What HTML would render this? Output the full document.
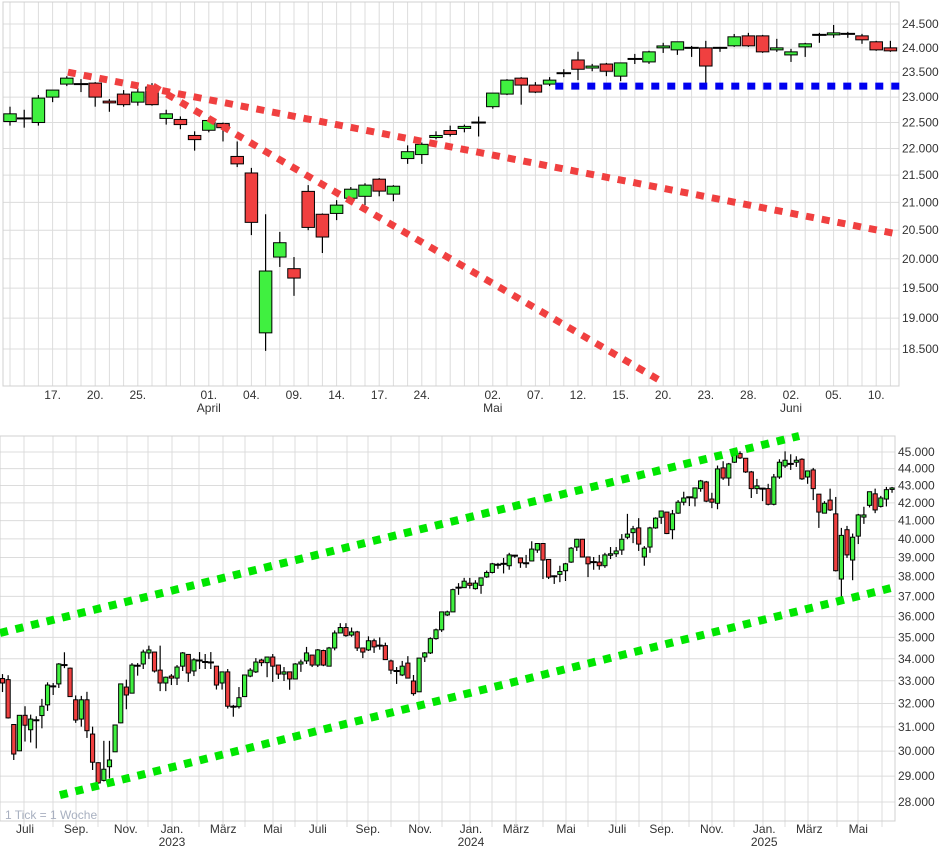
<!DOCTYPE html>
<html><head><meta charset="utf-8">
<style>
html,body{margin:0;padding:0;background:#fff;}
svg{display:block;font-family:"Liberation Sans",sans-serif;}
text{font-size:12px;fill:#333;}
</style></head>
<body>
<svg id="chart" width="941" height="856" viewBox="0 0 941 856" xmlns="http://www.w3.org/2000/svg">
<g id="topchart"></g>
<g id="botchart"></g>
</svg>
<script>
// ---------- TOP CHART DATA (daily) ----------
const tOpen=[22520,22580,22500,23000,23260,23260,23280,22920,23060,22900,23200,22580,22560,22250,22350,22480,21850,21540,18760,20030,19830,21200,20785,20800,21075,21110,21425,21150,21810,21885,22210,22345,22385,22500,22810,23060,23380,23240,23260,23480,23750,23585,23667,23420,23771,23710,24000,23958,24000,24000,24000,24042,24250,24250,23958,23854,24020,24271,24271,24292,24250,24126,24000];
const tHigh=[22810,22750,23040,23140,23420,23360,23300,22960,23140,23180,23280,22750,22620,22330,22600,22500,22135,21635,20785,20470,20030,21315,20800,21040,21280,21350,21445,21315,22060,22115,22330,22440,22460,22616,23080,23360,23400,23300,23400,23560,23920,23670,23690,23690,23875,23940,24105,24126,24040,24146,24020,24290,24313,24270,24188,23980,24105,24313,24480,24334,24292,24146,24146];
const tLow=[22440,22400,22440,22900,23220,23100,22810,22710,22810,22830,22830,22460,22370,21960,22310,22135,21650,20414,18470,19860,19370,20500,20100,20680,21035,20950,21110,21020,21710,21710,22175,22230,22310,22230,22770,23040,22850,23080,23220,23400,23340,23520,23420,23320,23667,23670,23895,23855,23813,23280,23917,24020,24020,23896,23917,23710,23813,24105,24209,24209,24084,23938,23917];
const tClose=[22670,22580,22980,23140,23380,23260,23000,22885,22850,23100,22850,22670,22460,22170,22540,22400,21710,20640,19790,20280,19670,20550,20380,20950,21240,21315,21205,21295,21940,22080,22250,22270,22425,22500,23080,23340,23240,23100,23340,23480,23560,23625,23520,23690,23771,23917,24040,24126,24000,23626,24000,24230,24042,23917,24000,23917,24084,24271,24313,24292,24167,23958,23938];
const tTicks=[24500,24000,23500,23000,22500,22000,21500,21000,20500,20000,19500,19000,18500];
const tXLabelIdx=[3,6,9,14,17,20,23,26,29,34,37,40,43,46,49,52,55,58,61];
const tXLabels=["17.","20.","25.","01.","04.","09.","14.","17.","24.","02.","07.","12.","15.","20.","23.","28.","02.","05.","10."];
const tMonthIdx=[14,34,55];
const tMonths=["April","Mai","Juni"];
const tTrendA=[[4.08,23500],[62.2,20448]];
const tTrendB=[[10.07,23220],[45.8,18000]];
const tSupport=[[38.4,23220],[62.7,23220]];

// ---------- BOTTOM CHART DATA (weekly) ----------
const bOpen=[33100,33050,31100,30010,31490,30880,31280,31480,31940,32750,32860,33710,33570,32160,31330,32160,30700,29530,28830,29370,29970,31170,32720,32450,33680,33760,34270,34310,33480,32900,33210,33120,33660,34200,33440,33920,33850,33830,33660,32900,33400,31860,31860,32300,33210,33400,33940,33820,34080,33710,33300,33400,33080,33760,33900,34170,33710,34380,33660,34500,35210,35470,35110,35260,34500,34410,34840,34610,34610,33900,33440,33260,33800,32990,32510,34080,34270,34940,35360,36080,36230,37440,37440,37670,37390,37560,37990,38220,38620,38670,38570,39100,38980,38700,38820,39400,39750,38900,38020,38120,38310,38760,39560,39980,39030,38760,38760,38570,39140,39200,39400,40090,40340,40600,39030,39560,40600,41190,41480,40500,41420,42040,42320,42280,42820,43210,42220,41980,44040,43440,44380,44900,44620,43800,42820,42820,42820,41920,43500,44160,44280,44380,44560,43500,43920,42500,41420,42160,41380,37880,40500,38870,40150,41200,41860,42520,41800,42220,42820];
const bHigh=[33300,33250,31120,31500,31880,31520,31450,32200,32930,32900,33800,34300,33600,32350,32330,32510,31010,29550,30420,30420,31080,32860,33050,33800,33800,34420,34610,34320,34610,33190,33300,33710,34310,34200,34030,34310,34220,34310,33660,33400,33530,31940,32720,33260,33570,34030,34000,34080,34220,33710,33620,33400,33800,33960,34550,34170,34450,34420,34550,35330,35680,35680,35470,35310,34500,35050,34940,35000,34750,33960,33620,33900,34120,33260,34030,34310,35000,35420,36230,36290,37390,37670,37940,37940,37820,37940,38320,38720,38720,38980,39250,39140,38980,39140,39870,39750,39750,38900,38070,38570,38720,39560,40000,40000,39030,39030,39140,39250,39560,39560,40260,41380,40710,41140,39610,40660,41190,41540,41480,41600,42160,42640,42340,42860,43330,43270,42580,44180,44440,44340,44980,45040,44620,43860,43390,42860,43100,43680,44560,45040,44860,44740,44620,43860,44040,42500,42100,42820,42340,40600,40710,40290,41380,41780,42640,42820,42400,42920,42920];
const bLow=[32500,31350,29640,30000,30390,30350,30110,30940,31680,32370,32680,33570,32300,31170,31010,30540,29240,28700,28790,28910,29970,31150,31750,32450,33230,33530,33990,33370,32540,32540,32810,32810,33440,32950,33210,33530,33530,33530,32610,32610,31780,31430,31780,32300,33160,33350,33660,33160,32950,33080,32990,32600,33080,33400,33760,33620,33620,33660,33660,34390,35200,35030,35030,34360,34030,34360,34270,34420,33960,33300,32860,33210,33120,32340,32510,33850,34220,34890,35260,36030,36230,37080,37440,37390,37340,37130,37940,38170,38410,38170,38360,38980,38460,38460,38820,39250,37880,37880,37630,37720,37780,38720,39350,39030,37980,38360,38360,38460,38920,39030,39140,39980,39770,39350,38570,39250,40550,40820,40260,39980,41380,41860,41820,41800,42640,42040,41700,41640,43330,42980,44340,44580,43740,42280,42510,42100,41860,41860,43390,44040,43920,44100,43330,43100,42160,40600,41420,41540,38270,36980,38980,37820,39720,40820,41740,41420,41740,41800,42580];
const bClose=[32900,31380,29880,31490,31070,31330,31280,31880,32810,32750,33760,33710,32300,31290,32160,30840,29550,28730,29270,29640,31080,32860,32370,33710,33680,34310,34410,33440,32900,33160,33120,33620,34270,33350,33950,33920,33850,33830,32810,33400,31880,31860,32250,33260,33480,33850,33820,34080,33660,33300,33400,33080,33760,33850,34270,33710,34410,33710,34500,35210,35470,35080,35260,34500,34310,34840,34550,34610,33960,33480,33440,33660,33120,32430,34030,34270,34940,35360,36230,36230,37340,37440,37770,37560,37670,37940,38220,38670,38620,38670,39140,39100,38720,38700,39450,39750,38870,37980,38020,38270,38670,39500,39980,39030,38670,38760,38570,39140,39200,39350,39980,40260,40550,39720,39500,40600,41140,41540,40290,41380,42040,42280,42320,42860,43270,42100,42040,43980,43440,44280,44860,44640,43800,42820,42980,42820,41920,43500,44380,44500,44280,44500,43390,43860,42820,41480,41980,41600,38310,40190,39140,40090,41320,41320,42640,41600,42280,42760,42860];
const bTicks=[45000,44000,43000,42000,41000,40000,39000,38000,37000,36000,35000,34000,33000,32000,31000,30000,29000,28000];
const bXLabels=["Juli","Sep.","Nov.","Jan.","März","Mai","Juli","Sep.","Nov.","Jan.","März","Mai","Juli","Sep.","Nov.","Jan.","März","Mai"];
const bXLabelIdx=[4.0,13.1,21.9,30.1,39.2,48.0,56.0,64.9,74.2,83.2,91.2,100.1,109.2,117.1,126.0,135.3,143.3,152.0];
const bYears=["2023","2024","2025"];
const bYearIdx=[30.1,83.2,135.3];
const bUpper=[[-0.44,35210],[141.5,45990]];
const bLower=[[10.2,28260],[157.8,37420]];

const NS="http://www.w3.org/2000/svg";
function mk(parent,tag,attrs){const e=document.createElementNS(NS,tag);for(const k in attrs)e.setAttribute(k,attrs[k]);parent.appendChild(e);return e;}

// ---------- TOP ----------
const topG=document.getElementById('topchart');
const TL=3,TR=899,TT=2,TB=386;
const tx=i=>10+i*14.2;
const ty=v=>24+1157*Math.log(24500/v);
const tg=mk(topG,'g',{});


for(let i=0;i<tOpen.length;i++){mk(tg,'line',{x1:tx(i),x2:tx(i),y1:TT,y2:TB,stroke:'#dcdcdc','stroke-width':1});}
tTicks.forEach(v=>{mk(tg,'line',{x1:TL,x2:TR,y1:ty(v),y2:ty(v),stroke:'#dcdcdc','stroke-width':1});});
mk(tg,'rect',{x:TL,y:TT,width:TR-TL,height:TB-TT,fill:'none',stroke:'#d0d0d0','stroke-width':1});
tTicks.forEach(v=>{const t=mk(topG,'text',{x:902,y:ty(v)+4});t.textContent=v.toLocaleString('de-DE');

});
tXLabelIdx.forEach((ix,k)=>{const t=mk(topG,'text',{x:tx(ix),y:399,'text-anchor':'middle'});t.textContent=tXLabels[k];

});
tMonthIdx.forEach((ix,k)=>{const t=mk(topG,'text',{x:tx(ix),y:412,'text-anchor':'middle'});t.textContent=tMonths[k];

});
function candles(parent,O,H,L,C,xf,yf,w){
  for(let i=0;i<O.length;i++){
    const x=xf(i);
    const c=mk(parent,'g',{});
    
    
    mk(c,'line',{x1:x,x2:x,y1:yf(H[i]),y2:yf(L[i]),stroke:'#000','stroke-width':1.2});
    if(O[i]===C[i]){
      mk(c,'line',{x1:x-w/2-1,x2:x+w/2+1,y1:yf(O[i]),y2:yf(O[i]),stroke:'#000','stroke-width':2});
    }else{
      const y1=Math.min(yf(O[i]),yf(C[i])),y2=Math.max(yf(O[i]),yf(C[i]));
      mk(c,'rect',{x:x-w/2,y:y1,width:w,height:Math.max(1.5,y2-y1),fill:C[i]>O[i]?'#40f040':'#f04040',stroke:'#000','stroke-width':1});
    }
  }
}
const tc=mk(topG,'g',{});


candles(tc,tOpen,tHigh,tLow,tClose,tx,ty,12.5);
function seg(parent,pts,xf,yf,color,name,w){
  const l=mk(parent,'line',{x1:xf(pts[0][0]),y1:yf(pts[0][1]),x2:xf(pts[1][0]),y2:yf(pts[1][1]),stroke:color,'stroke-width':w,'stroke-dasharray':'8 8'});
  
  
}
seg(topG,tTrendA,tx,ty,'#f04040','trendline-upper-red',7);
seg(topG,tTrendB,tx,ty,'#f04040','trendline-steep-red',7);
seg(topG,tSupport,tx,ty,'#0000f0','support-line-blue',7);

// ---------- BOTTOM ----------
const botG=document.getElementById('botchart');
const BL=0,BR=895,BT=436,BB=821;
const bx=i=>2.5+i*5.63;
const by=v=>452+737.6*Math.log(45000/v);
const bg=mk(botG,'g',{});


[24,53,76,98,127,148,172,199,223,245,273,295,317,347,368,391,419,442,470,492,516,543,566,588,616,639,662,689,712,734,763,785,808,837,858,882].forEach(x=>{mk(bg,'line',{x1:x,x2:x,y1:BT,y2:BB+6,stroke:'#dcdcdc','stroke-width':1});});
bTicks.forEach(v=>{mk(bg,'line',{x1:BL,x2:BR,y1:by(v),y2:by(v),stroke:'#dcdcdc','stroke-width':1});});
mk(bg,'rect',{x:BL,y:BT,width:BR-BL,height:BB-BT,fill:'none',stroke:'#d0d0d0','stroke-width':1});
bTicks.forEach(v=>{const t=mk(botG,'text',{x:898,y:by(v)+4});t.textContent=v.toLocaleString('de-DE');

});
bXLabelIdx.forEach((ix,k)=>{const t=mk(botG,'text',{x:bx(ix),y:833,'text-anchor':'middle'});t.textContent=bXLabels[k];

});
bYearIdx.forEach((ix,k)=>{const t=mk(botG,'text',{x:bx(ix),y:846,'text-anchor':'middle'});t.textContent=bYears[k];

});
const note=mk(botG,'text',{x:5,y:819});note.textContent='1 Tick = 1 Woche';note.style.fill='#a8b0c0';


const bc=mk(botG,'g',{});


candles(bc,bOpen,bHigh,bLow,bClose,bx,by,4.2);
seg(botG,bUpper,bx,by,'#00e600','channel-upper-green',8);
seg(botG,bLower,bx,by,'#00e600','channel-lower-green',8);
</script>
</body></html>
